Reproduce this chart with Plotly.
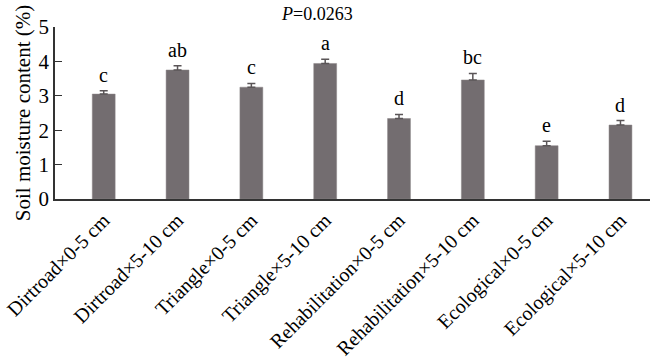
import plotly.graph_objects as go

categories = ["Dirtroad×0-5 cm", "Dirtroad×5-10 cm", "Triangle×0-5 cm", "Triangle×5-10 cm",
              "Rehabilitation×0-5 cm", "Rehabilitation×5-10 cm", "Ecological×0-5 cm", "Ecological×5-10 cm"]
values = [3.05, 3.75, 3.25, 3.94, 2.34, 3.46, 1.55, 2.15]
errors = [0.10, 0.12, 0.11, 0.12, 0.12, 0.19, 0.13, 0.13]
letters = ["c", "ab", "c", "a", "d", "bc", "e", "d"]
y_ticks = [0, 1, 2, 3, 4, 5]

font_family = "Liberation Serif, Times New Roman, serif"
xs = list(range(len(categories)))

fig = go.Figure()
fig.add_trace(go.Bar(
    x=xs, y=values, width=0.31,
    marker=dict(color="#736d70", line=dict(color="#8a8587", width=0.5)),
    error_y=dict(type="data", array=errors, arrayminus=[0]*len(errors), symmetric=False,
                 color="#5a5557", thickness=1.5, width=4),
))

for x, v, e, t in zip(xs, values, errors, letters):
    fig.add_annotation(x=x, y=v + e, text=t, showarrow=False, yanchor="bottom", yshift=3,
                       font=dict(family=font_family, size=20, color="black"))

fig.add_annotation(x=0.44, xref="paper", y=1.0, yref="paper", yanchor="bottom", yshift=2,
                   borderpad=0, text="<i>P</i>=0.0263", showarrow=False,
                   font=dict(family=font_family, size=18, color="black"))

fig.update_layout(
    width=650, height=358,
    margin=dict(l=55, r=0, t=27, b=159),
    plot_bgcolor="white", paper_bgcolor="white",
    showlegend=False,
    font=dict(family=font_family, size=20, color="black"),
    xaxis=dict(
        tickmode="array", tickvals=xs, ticktext=categories, tickangle=-45,
        range=[-0.66, 7.4], showline=True, linecolor="#333", linewidth=1.5,
        ticks="", showgrid=False, zeroline=False, automargin=False,
        ticklabeloverflow="allow",
        tickfont=dict(family=font_family, size=20, color="black"),
    ),
    yaxis=dict(
        range=[0, 5], tickvals=y_ticks, showline=True, linecolor="#333", linewidth=1.5,
        ticks="inside", ticklen=7, tickcolor="#333", tickwidth=1.2,
        showgrid=False, zeroline=False, automargin=False,
        tickfont=dict(family=font_family, size=21, color="black"),
        title=dict(text="Soil moisture content (%)", standoff=2,
                   font=dict(family=font_family, size=21, color="black")),
    ),
)

# remove the default 8px page margin so the figure fills the window exactly
fig.write_html("out.html", config={"displayModeBar": False},
               post_script="document.body.style.margin='0';")
